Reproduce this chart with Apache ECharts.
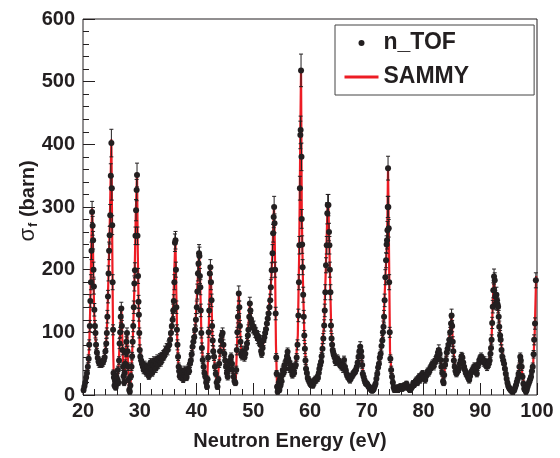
<!DOCTYPE html>
<html><head><meta charset="utf-8">
<script src="https://cdn.jsdelivr.net/npm/echarts@6/dist/echarts.min.js"></script>
<style>html,body{margin:0;padding:0;background:#fff}#c{width:560px;height:458px}</style>
</head><body><div id="c"></div>
<script>
// n_TOF measured points: [energy (eV), sigma_f (barn), error (barn)]
const seg20 = [[20.1,8,4],[20.25,14,4],[20.4,20,5],[20.55,28,5],[20.7,35,5],[20.85,45,6],[21.0,58,6],[21.1,80,8],[21.2,110,9],[21.3,150,10],[21.4,180,12],[21.5,230,14],[21.6,292,17],[21.7,270,15],[21.78,247,14],[21.85,200,12],[21.92,173,12],[22.0,136,10],[22.1,110,9],[22.2,99,8],[22.3,80,8],[22.45,68,6],[22.6,59,6],[22.75,53,6],[22.9,50,6],[23.05,51,6],[23.2,50,6],[23.35,51,6],[23.5,52,6],[23.65,55,6],[23.8,60,6],[23.95,70,8],[24.1,82,8],[24.2,99,8],[24.3,125,10],[24.4,157,10],[24.5,194,12],[24.6,230,14],[24.7,255,14],[24.8,287,17],[24.9,350,19],[25.0,402,22],[25.08,330,19],[25.15,271,15],[25.22,180,12],[25.3,104,8],[25.38,35,5]];
const seg25 = [[25.45,28,5],[25.55,15,4],[25.65,22,5],[25.75,12,4],[25.85,30,5],[25.95,18,4],[26.05,25,5],[26.15,40,6],[26.25,20,5],[26.35,55,6],[26.45,82,8],[26.55,100,8],[26.65,125,10],[26.75,138,10],[26.85,110,9],[26.95,72,8],[27.05,45,6],[27.15,30,5],[27.25,20,5],[27.35,35,5],[27.45,50,6],[27.55,67,6],[27.65,85,8],[27.75,99,8],[27.85,70,8],[27.95,45,6],[28.05,25,5],[28.15,8,4],[28.25,5,4],[28.35,15,4],[28.45,30,5],[28.55,45,6],[28.65,62,6],[28.75,85,8],[28.85,110,9],[28.95,140,10],[29.05,178,12],[29.15,199,12],[29.25,254,14],[29.35,295,17],[29.45,327,17],[29.52,351,19],[29.6,254,14],[29.7,190,12],[29.78,149,10],[29.85,128,10],[29.92,99,8],[30.0,72,8]];
const seg30 = [[30.1,61,6],[30.25,55,6],[30.4,50,6],[30.55,45,6],[30.7,40,6],[30.85,48,6],[31.0,42,6],[31.15,35,5],[31.3,45,6],[31.45,38,5],[31.6,30,5],[31.75,44,6],[31.9,52,6],[32.05,40,6],[32.2,35,5],[32.35,48,6],[32.5,55,6],[32.65,45,6],[32.8,42,6],[32.95,50,6],[33.1,58,6],[33.25,48,6],[33.4,55,6],[33.55,60,6],[33.7,52,6],[33.85,62,6],[34.0,58,6],[34.15,65,6],[34.3,62,6],[34.45,70,8],[34.6,68,6],[34.75,74,8],[34.9,72,8],[35.05,78,8],[35.2,80,8],[35.35,88,8],[35.5,99,8],[35.65,110,9],[35.8,120,10],[35.9,135,10],[36.0,150,10],[36.1,180,12],[36.2,243,14],[36.3,247,14],[36.38,200,12],[36.45,140,10],[36.55,104,8],[36.65,80,8],[36.75,61,6],[36.85,45,6]];
const seg37 = [[36.95,38,5],[37.05,30,5],[37.2,40,6],[37.35,28,5],[37.5,35,5],[37.65,25,5],[37.8,32,5],[37.95,40,6],[38.1,30,5],[38.25,28,5],[38.4,35,5],[38.55,42,6],[38.7,38,5],[38.85,50,6],[39.0,55,6],[39.15,65,6],[39.3,77,8],[39.45,85,8],[39.6,92,8],[39.75,104,8],[39.9,120,10],[40.05,140,10],[40.15,165,12],[40.25,194,12],[40.35,210,12],[40.45,226,14],[40.52,222,14],[40.6,190,12],[40.68,172,12],[40.75,135,10],[40.85,99,8],[40.95,75,8],[41.1,56,6],[41.25,45,6],[41.4,35,5],[41.55,29,5],[41.7,20,5],[41.85,13,4],[41.95,25,5],[42.05,60,6],[42.15,100,8],[42.25,135,10],[42.35,194,12],[42.45,204,12],[42.55,180,12],[42.65,151,10],[42.75,110,9],[42.85,87,8],[42.95,70,8],[43.1,61,6],[43.25,45,6],[43.4,34,5],[43.55,20,5],[43.7,13,4],[43.85,25,5],[44.0,50,6],[44.15,70,8],[44.3,87,8],[44.45,95,8],[44.6,99,8],[44.75,80,8],[44.9,66,6]];
const seg45 = [[45.05,55,6],[45.2,45,6],[45.35,35,5],[45.5,29,5],[45.65,40,6],[45.8,50,6],[45.95,55,6],[46.1,61,6],[46.25,50,6],[46.4,40,6],[46.55,29,5],[46.7,22,5],[46.85,19,4],[47.0,40,6],[47.1,72,8],[47.2,100,8],[47.3,125,10],[47.45,162,12],[47.55,140,10],[47.65,110,9],[47.75,85,8],[47.85,66,6],[48.0,62,6],[48.15,70,8],[48.3,66,6],[48.45,60,6],[48.6,66,6],[48.75,75,8],[48.9,82,8],[49.05,95,8],[49.15,104,8],[49.3,125,10],[49.4,146,10],[49.5,135,10],[49.6,120,10],[49.75,114,9],[49.9,108,9],[50.05,109,9],[50.2,104,8],[50.35,100,8],[50.5,99,8],[50.65,95,8],[50.8,90,8],[50.95,93,8],[51.1,87,8],[51.25,80,8],[51.4,70,8],[51.5,66,6],[51.65,75,8],[51.8,87,8],[51.95,92,8],[52.1,99,8],[52.25,105,8],[52.4,114,9],[52.55,122,10],[52.7,130,10],[52.85,140,10],[53.0,151,10],[53.1,172,12],[53.25,199,12],[53.4,226,14],[53.5,258,14],[53.6,284,17],[53.68,300,17],[53.75,274,15],[53.85,200,12],[53.95,130,10],[54.05,60,6],[54.12,34,5],[54.2,13,4]];
const seg54 = [[54.3,5,4],[54.4,12,4],[54.5,20,5],[54.6,8,4],[54.7,25,5],[54.8,15,4],[54.9,30,5],[55.0,22,5],[55.1,32,5],[55.2,40,6],[55.35,35,5],[55.5,48,6],[55.65,42,6],[55.8,55,6],[55.95,62,6],[56.05,69,6],[56.15,58,6],[56.3,53,6],[56.45,42,6],[56.6,48,6],[56.75,38,5],[56.9,32,5],[57.05,40,6],[57.2,35,5],[57.35,45,6],[57.5,48,6],[57.65,60,6],[57.8,80,8],[57.95,127,10],[58.05,180,12],[58.13,239,14],[58.22,330,19],[58.3,415,22],[58.35,423,22],[58.42,518,26],[58.5,380,22],[58.54,281,15],[58.62,240,14],[58.7,204,12],[58.8,160,12],[58.9,125,10],[59.0,95,8],[59.1,74,8],[59.2,55,6],[59.3,42,6],[59.45,35,5],[59.6,27,5],[59.75,24,5],[59.9,21,5],[60.05,18,4],[60.2,16,4],[60.35,20,5],[60.5,15,4],[60.65,22,5],[60.8,21,5],[60.95,25,5],[61.1,24,5],[61.25,28,5],[61.4,27,5],[61.55,35,5],[61.65,42,6],[61.8,48,6],[61.95,53,6],[62.05,62,6],[62.2,74,8],[62.35,90,8],[62.5,111,9],[62.6,135,10],[62.7,164,12],[62.82,207,12],[62.95,239,14],[63.05,290,17],[63.12,303,17],[63.25,303,17],[63.35,260,14],[63.42,239,14],[63.5,200,12],[63.6,164,12],[63.7,111,9],[63.8,90,8],[63.9,80,8],[64.0,72,8],[64.1,68,6],[64.2,64,6],[64.35,60,6],[64.5,53,6],[64.65,55,6],[64.8,58,6],[64.95,56,6],[65.1,52,6],[65.25,50,6],[65.4,48,6],[65.55,46,6],[65.7,48,6],[65.85,42,6]];
const seg66 = [[66.0,56,6],[66.15,45,6],[66.3,40,6],[66.45,34,5],[66.6,30,5],[66.75,29,5],[66.9,26,5],[67.05,24,5],[67.2,28,5],[67.35,29,5],[67.5,32,5],[67.65,34,5],[67.8,36,5],[67.95,38,5],[68.1,40,6],[68.25,45,6],[68.4,52,6],[68.55,61,6],[68.7,70,8],[68.85,77,8],[69.0,70,8],[69.1,61,6],[69.2,48,6],[69.3,34,5],[69.45,29,5],[69.6,24,5],[69.75,20,5],[69.9,18,4],[70.05,18,4],[70.2,15,4],[70.35,13,4],[70.5,12,4],[70.65,10,4],[70.8,8,4],[70.95,7,4],[71.1,8,4],[71.25,10,4],[71.4,14,4],[71.55,18,4],[71.7,26,5],[71.85,34,5],[72.0,44,6],[72.15,50,6],[72.3,60,6],[72.45,66,6],[72.6,78,8],[72.75,87,8],[72.85,100,8],[72.95,109,9],[73.05,125,10],[73.15,151,10],[73.28,188,12],[73.4,215,12],[73.5,240,14],[73.57,247,14],[73.65,263,14],[73.7,300,17],[73.75,362,19],[73.8,300,17],[73.87,266,14],[73.95,180,12],[74.05,100,8],[74.16,58,6],[74.3,40,6],[74.45,29,5],[74.6,20,5],[74.75,12,4],[74.9,8,4],[75.05,8,4],[75.2,10,4],[75.35,12,4],[75.5,8,4],[75.65,12,4],[75.8,10,4],[75.95,14,4],[76.1,12,4],[76.25,10,4],[76.4,13,4],[76.55,15,4],[76.7,12,4],[76.85,16,4],[77.0,18,4],[77.15,14,4],[77.3,12,4],[77.45,10,4],[77.6,8,4],[77.75,10,4],[77.9,12,4]];
const seg78 = [[78.05,14,4],[78.2,19,4],[78.35,16,4],[78.5,20,5],[78.65,22,5],[78.8,24,5],[78.95,20,5],[79.1,26,5],[79.25,29,5],[79.4,24,5],[79.55,30,5],[79.7,32,5],[79.85,34,5],[80.0,30,5],[80.15,28,5],[80.3,24,5],[80.45,30,5],[80.6,34,5],[80.75,38,5],[80.9,35,5],[81.05,40,6],[81.2,42,6],[81.35,45,6],[81.5,48,6],[81.65,50,6],[81.8,46,6],[81.95,52,6],[82.1,55,6],[82.25,56,6],[82.4,62,6],[82.55,68,6],[82.7,72,8],[82.85,66,6],[83.0,56,6],[83.15,45,6],[83.3,35,5],[83.45,22,5],[83.55,19,4],[83.65,32,5],[83.8,48,6],[83.95,56,6],[84.1,68,6],[84.25,74,8],[84.4,80,8],[84.55,88,8],[84.7,100,8],[84.85,114,9],[84.95,127,10],[85.05,110,9],[85.15,85,8],[85.25,70,8],[85.35,55,6],[85.5,45,6],[85.65,38,5],[85.8,34,5],[85.95,38,5],[86.1,40,6],[86.25,42,6],[86.4,50,6],[86.55,55,6],[86.7,62,6],[86.85,60,6],[87.0,52,6],[87.15,45,6],[87.3,40,6],[87.45,35,5],[87.6,34,5],[87.75,30,5],[87.9,28,5],[88.05,24,5],[88.2,30,5],[88.35,35,5],[88.5,38,5],[88.65,40,6],[88.8,42,6],[88.95,45,6],[89.1,45,6]];
const seg89 = [[89.25,40,6],[89.4,34,5],[89.55,45,6],[89.7,50,6],[89.85,56,6],[90.0,58,6],[90.15,61,6],[90.3,58,6],[90.45,56,6],[90.6,52,6],[90.75,55,6],[90.9,50,6],[91.05,48,6],[91.2,45,6],[91.35,48,6],[91.5,50,6],[91.65,55,6],[91.8,66,6],[91.9,75,8],[92.0,88,8],[92.1,115,9],[92.2,141,10],[92.3,167,12],[92.43,189,12],[92.55,183,12],[92.65,157,10],[92.75,146,10],[92.85,160,12],[92.95,151,10],[93.05,145,10],[93.15,141,10],[93.25,125,10],[93.35,109,9],[93.5,95,8],[93.6,88,8],[93.75,72,8],[93.9,61,6],[94.05,55,6],[94.2,50,6],[94.35,42,6],[94.5,34,5],[94.65,26,5],[94.8,19,4],[94.95,14,4],[95.1,11,4],[95.25,9,4],[95.4,8,4],[95.55,6,4],[95.7,5,4],[95.85,7,4],[96.0,8,4],[96.15,12,4],[96.3,16,4],[96.45,21,5],[96.6,26,5],[96.75,34,5],[96.9,45,6],[97.05,61,6],[97.15,55,6],[97.3,45,6],[97.45,29,5],[97.6,18,4],[97.75,10,4],[97.9,8,4],[98.05,5,4],[98.2,8,4],[98.35,13,4],[98.5,18,4],[98.65,21,5],[98.8,25,5],[98.95,29,5],[99.1,38,5],[99.25,45,6],[99.4,65,6],[99.5,88,8],[99.65,114,9],[99.8,183,12]];

// SAMMY fit curve: [energy (eV), sigma_f (barn)]
const sammy = [[20.0,4],[20.4,18],[20.8,38],[21.1,75],[21.3,150],[21.45,230],[21.6,298],[21.72,260],[21.85,180],[22.0,125],[22.2,90],[22.5,65],[22.9,52],[23.4,51],[23.8,60],[24.1,85],[24.3,125],[24.5,195],[24.7,265],[24.88,350],[25.0,408],[25.1,300],[25.2,190],[25.32,70],[25.45,20],[25.7,12],[26.0,20],[26.3,50],[26.55,105],[26.75,140],[26.9,100],[27.1,35],[27.3,25],[27.55,65],[27.75,102],[27.9,60],[28.1,12],[28.25,3],[28.5,35],[28.8,95],[29.05,170],[29.3,290],[29.52,355],[29.65,230],[29.8,140],[30.0,75],[30.3,52],[30.8,42],[31.5,38],[32.5,47],[33.5,55],[34.5,67],[35.2,80],[35.6,105],[35.9,140],[36.1,200],[36.28,250],[36.45,160],[36.6,90],[36.8,50],[37.2,32],[38.0,30],[38.6,40],[39.2,68],[39.8,110],[40.2,180],[40.45,228],[40.65,180],[40.85,100],[41.1,55],[41.5,28],[41.85,10],[42.1,80],[42.4,205],[42.55,185],[42.8,95],[43.2,50],[43.65,12],[44.0,55],[44.5,98],[45.0,55],[45.5,32],[46.0,58],[46.5,30],[46.9,18],[47.2,95],[47.45,165],[47.7,100],[47.95,62],[48.5,64],[49.0,90],[49.4,145],[49.7,115],[50.3,102],[51.0,88],[51.5,68],[52.0,95],[52.7,132],[53.1,175],[53.4,230],[53.65,302],[53.8,240],[54.0,80],[54.2,10],[54.5,8],[55.0,25],[55.5,45],[56.0,65],[56.5,45],[57.0,37],[57.5,50],[57.85,95],[58.1,230],[58.3,420],[58.42,520],[58.55,290],[58.75,185],[59.0,95],[59.3,45],[59.8,22],[60.3,17],[61.0,24],[61.6,40],[62.1,70],[62.5,115],[62.8,205],[63.1,305],[63.25,300],[63.5,200],[63.75,100],[64.1,68],[64.6,55],[65.5,47],[66.3,40],[67.0,27],[67.7,35],[68.3,45],[68.85,75],[69.1,58],[69.4,30],[70.0,18],[70.9,7],[71.5,15],[72.0,42],[72.5,70],[72.9,105],[73.3,190],[73.6,250],[73.75,362],[73.9,250],[74.1,70],[74.4,30],[74.9,8],[75.5,10],[76.5,13],[77.5,10],[78.5,19],[79.5,29],[80.5,30],[81.5,47],[82.2,57],[82.7,72],[83.1,50],[83.5,20],[83.9,55],[84.5,88],[84.95,126],[85.2,78],[85.6,40],[86.2,42],[86.8,58],[87.5,34],[88.0,27],[88.8,42],[89.4,40],[90.1,58],[91.0,50],[91.6,55],[92.0,90],[92.2,145],[92.4,190],[92.6,165],[92.9,155],[93.2,130],[93.6,88],[94.1,52],[94.6,27],[95.1,11],[95.6,5],[96.2,12],[96.7,30],[97.05,60],[97.4,35],[97.9,7],[98.3,12],[98.9,28],[99.3,45],[99.6,100],[99.85,190]];

const nTOF = [].concat(seg20, seg25, seg30, seg37, seg45, seg54, seg66, seg78, seg89);
const xRange = [20, 100], xStep = 10;
const yRange = [0, 600], yStep = 100;
const seriesNames = ['n_TOF', 'SAMMY'];
const xTitle = 'Neutron Energy (eV)';

const INK = '#231f20';
const RED = '#ed1c24';
const FONT = '"Liberation Sans", Arial, sans-serif';

function renderErr(params, api) {
  const x = api.value(0), y = api.value(1), e = api.value(2);
  const lo = Math.max(yRange[0], y - e), hi = Math.min(yRange[1], y + e);
  const p1 = api.coord([x, lo]), p2 = api.coord([x, hi]);
  const c = 2;
  const st = {stroke: INK, lineWidth: 1};
  const kids = [
    {type: 'line', shape: {x1: p1[0], y1: p1[1], x2: p2[0], y2: p2[1]}, style: st},
    {type: 'line', shape: {x1: p2[0] - c, y1: p2[1], x2: p2[0] + c, y2: p2[1]}, style: st}
  ];
  if (y - e > yRange[0]) kids.push({type: 'line', shape: {x1: p1[0] - c, y1: p1[1], x2: p1[0] + c, y2: p1[1]}, style: st});
  return {type: 'group', children: kids};
}

const chart = echarts.init(document.getElementById('c'), null, {renderer: 'canvas'});
const labelStyle = {color: INK, fontFamily: FONT, fontWeight: 'bold', fontSize: 20};
chart.setOption({
  animation: false,
  backgroundColor: '#fff',
  grid: {left: 83, right: 23, top: 19, bottom: 63, show: true, borderColor: INK, borderWidth: 1, backgroundColor: 'transparent', outerBoundsMode: 'none'},
  xAxis: {
    type: 'value', min: xRange[0], max: xRange[1], interval: xStep,
    axisLine: {show: false},
    axisTick: {show: true, inside: true, length: 12, lineStyle: {color: INK, width: 1}},
    minorTick: {show: true, splitNumber: 5, length: 6, lineStyle: {color: INK, width: 1}},
    splitLine: {show: false}, minorSplitLine: {show: false},
    axisLabel: Object.assign({margin: 6}, labelStyle)
  },
  yAxis: {
    type: 'value', min: yRange[0], max: yRange[1], interval: yStep,
    axisLine: {show: false},
    axisTick: {show: true, inside: true, length: 12, lineStyle: {color: INK, width: 1}},
    minorTick: {show: true, splitNumber: 5, length: 6, lineStyle: {color: INK, width: 1}},
    splitLine: {show: false}, minorSplitLine: {show: false},
    axisLabel: Object.assign({margin: 8}, labelStyle)
  },
  legend: {
    data: [
      {name: seriesNames[0], icon: 'circle'},
      {name: seriesNames[1], itemStyle: {color: 'rgba(0,0,0,0)', borderWidth: 0}, lineStyle: {color: RED, width: 3}}
    ],
    orient: 'vertical', left: 335, top: 25,
    itemWidth: 34, itemHeight: 6, itemGap: 10,
    padding: [6, 65, 6, 8],
    borderColor: '#444', borderWidth: 1, backgroundColor: '#fff',
    textStyle: {color: INK, fontFamily: FONT, fontWeight: 'bold', fontSize: 23, lineHeight: 24},
    selectedMode: false
  },
  graphic: [
    {type: 'text', x: 290, y: 441, z: 10,
     style: {text: xTitle, fill: INK, font: 'bold 20px ' + FONT, align: 'center', verticalAlign: 'middle'}},
    {type: 'text', x: 28, y: 201, rotation: Math.PI / 2, z: 10,
     style: {text: '{s|σ}{f|f}{b| (barn)}', align: 'center', verticalAlign: 'middle', fill: INK,
       rich: {
         s: {fontFamily: FONT, fontSize: 22, fontWeight: 'normal', fill: INK, lineHeight: 24},
         f: {fontFamily: FONT, fontSize: 13, fontWeight: 'bold', fill: INK, lineHeight: 13, padding: [12, 0, 0, 1], verticalAlign: 'bottom'},
         b: {fontFamily: FONT, fontSize: 20, fontWeight: 'bold', fill: INK, lineHeight: 24}
       }}}
  ],
  series: [
    {name: seriesNames[1], type: 'line', data: sammy, symbol: 'none', z: 2,
     lineStyle: {color: RED, width: 2.2}, itemStyle: {color: RED}},
    {name: 'err', type: 'custom', data: nTOF, renderItem: renderErr, z: 3, silent: true,
     encode: {x: 0, y: 1}},
    {name: seriesNames[0], type: 'scatter', data: nTOF, symbol: 'circle', symbolSize: 6, z: 4,
     itemStyle: {color: INK, opacity: 1}}
  ]
});
</script></body></html>
